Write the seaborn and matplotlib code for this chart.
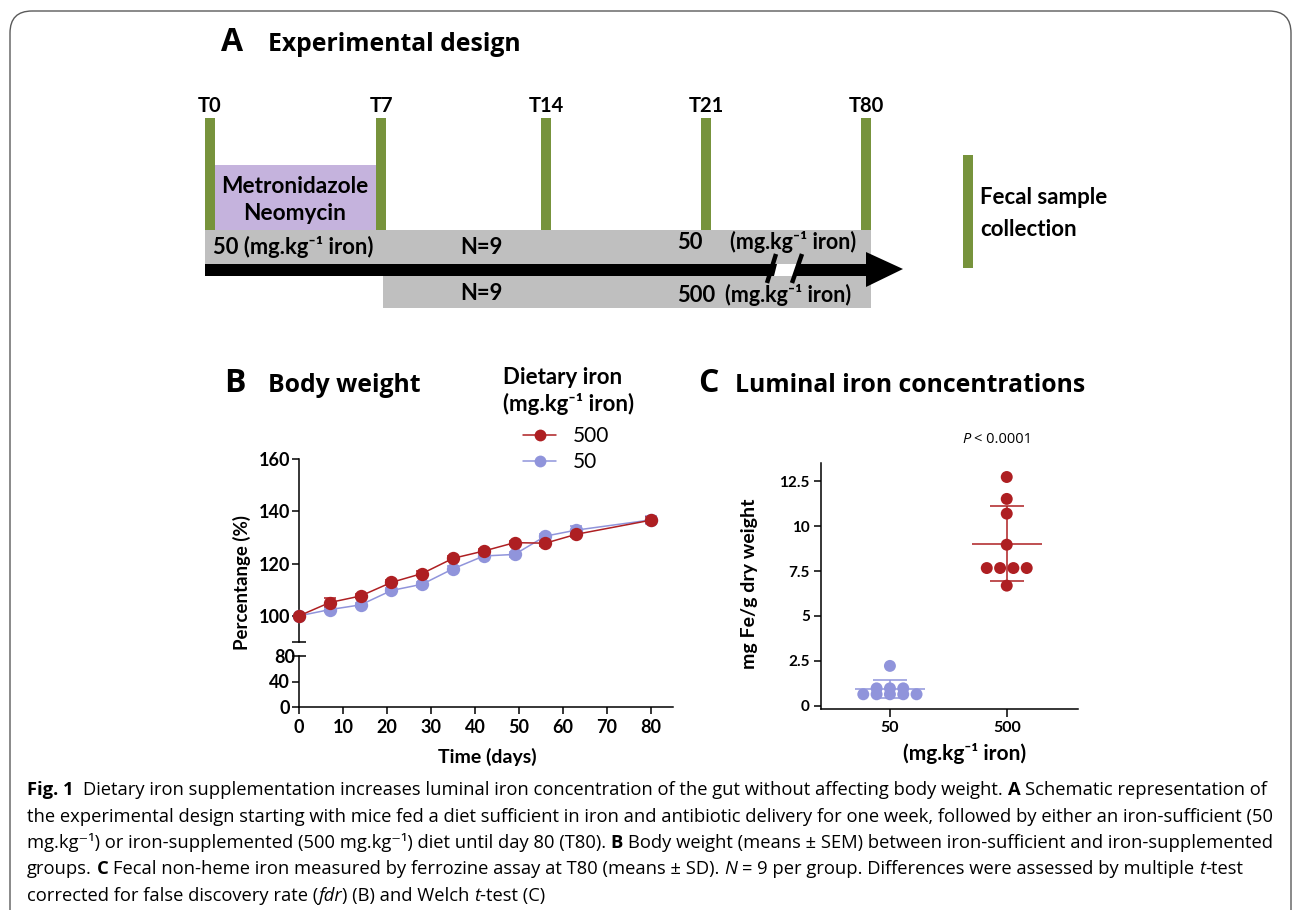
import numpy as np
import pandas as pd
import matplotlib
matplotlib.use("Agg")
import matplotlib.pyplot as plt
import seaborn as sns
from matplotlib.patches import Rectangle, Polygon, FancyBboxPatch
from matplotlib.lines import Line2D

# ---------------- data ----------------
# Panel A: schematic timeline
timepoints = ["T0", "T7", "T14", "T21", "T80"]
diet_groups = ["50", "500"]
n_per_group = 9

# Panel B: body weight (% of T0), mean +/- SEM
days = [0, 7, 14, 21, 28, 35, 42, 49, 56, 63, 80]
bw_500 = [100.0, 105.1, 107.6, 112.8, 116.2, 122.0, 124.8, 128.0, 127.8, 131.2, 136.6]
bw_50 = [100.0, 102.4, 104.2, 109.7, 112.1, 118.0, 122.9, 123.5, 130.5, 132.8, 136.7]
sem_500 = [0.0, 1.6, 0.8, 0.9, 0.8, 0.9, 0.8, 0.8, 0.9, 0.9, 1.2]
sem_50 = [0.0, 0.8, 0.7, 0.9, 0.9, 0.9, 0.9, 0.9, 1.0, 1.6, 1.4]

# Panel C: luminal iron (mg Fe / g dry weight)
fe_50 = [2.22, 0.97, 0.97, 0.97, 0.64, 0.64, 0.64, 0.64, 0.64]
fe_500 = [12.74, 11.52, 10.70, 8.97, 7.67, 7.67, 7.67, 7.67, 6.69]
c_yticks = [0, 2.5, 5, 7.5, 10, 12.5]
c_yticklabels = ["0", "2.5", "5", "7.5", "10", "12.5"]
b_xticks = [0, 10, 20, 30, 40, 50, 60, 70, 80]

# ---------------- style ----------------
RED = "#AE1F22"
BLUE = "#9094DB"
GREEN = "#77933C"
LAV = "#C5B3DD"
GRAY = "#BFBFBF"

sns.set_theme(style="ticks")
plt.rcParams["font.family"] = ["Lato", "DejaVu Sans"]
plt.rcParams["text.color"] = "black"
plt.rcParams["axes.labelcolor"] = "black"
plt.rcParams["axes.linewidth"] = 1.1
plt.rcParams["xtick.major.width"] = 1.1
plt.rcParams["ytick.major.width"] = 1.1
plt.rcParams["ytick.minor.width"] = 1.1
plt.rcParams["axes.edgecolor"] = "black"
plt.rcParams["xtick.color"] = "black"
plt.rcParams["ytick.color"] = "black"
plt.rcParams["xtick.labelcolor"] = "black"
plt.rcParams["ytick.labelcolor"] = "black"

W, H = 1293, 910
fig = plt.figure(figsize=(W / 100, H / 100), dpi=100)

LB = ["Lato", "DejaVu Sans"]
OS = ["Open Sans", "DejaVu Sans"]

# full-figure canvas axes in pixel coordinates
axA = fig.add_axes([0, 0, 1, 1])
axA.set_xlim(0, W)
axA.set_ylim(H, 0)
axA.axis("off")
axA.set_facecolor("none")

# border
axA.add_patch(FancyBboxPatch((10, 11), 1281, 960, boxstyle="round,pad=0,rounding_size=22",
                             fc="none", ec="#5a5a5a", lw=1.0, clip_on=False))

# ---- panel titles ----
def title(xl, xt, y, letter, text):
    axA.text(xl, y, letter, fontsize=23, fontweight="bold", family=OS, va="baseline", ha="left")
    axA.text(xt, y, text, fontsize=17.8, fontweight="bold", family=OS, va="baseline", ha="left")

title(221, 268, 51, "A", "Experimental design")
title(224, 268, 392, "B", "Body weight")
title(698, 735, 392, "C", "Luminal iron concentrations")

# ---- panel A schematic ----
tp_x = [210, 381, 546, 706, 866]  # layout positions of collection bars
bar_w = 10
axA.add_patch(Rectangle((tp_x[0] - 5, 230), tp_x[-1] + 5 - (tp_x[0] - 5), 34, fc=GRAY, ec="none"))
axA.add_patch(Rectangle((tp_x[1] + 2, 276), tp_x[-1] + 5 - (tp_x[1] + 2), 32, fc=GRAY, ec="none"))
axA.add_patch(Rectangle((tp_x[0] + 5, 165), tp_x[1] - 5 - (tp_x[0] + 5), 65, fc=LAV, ec="none"))
for lab, x in zip(timepoints, tp_x):
    axA.add_patch(Rectangle((x - bar_w / 2, 118), bar_w, 112, fc=GREEN, ec="none"))
    axA.text(x, 112, lab, fontsize=14.5, fontweight="bold", family=LB, ha="center", va="baseline")
axA.add_patch(Rectangle((tp_x[0] - 5, 264), 868 - (tp_x[0] - 5), 12, fc="black", ec="none"))
axA.add_patch(Polygon([(866, 252), (903, 269), (866, 287)], closed=True, fc="black", ec="none"))
axA.add_patch(Polygon([(777, 264), (797, 264), (794, 276), (774, 276)], closed=True, fc="white", ec="none"))
axA.plot([776, 767], [254, 283], color="black", lw=3.2, solid_capstyle="butt")
axA.plot([802, 792], [254, 283], color="black", lw=3.2, solid_capstyle="butt")

axA.text(295, 193, "Metronidazole", fontsize=16.3, fontweight="bold", family=LB, ha="center", va="baseline")
axA.text(295, 220, "Neomycin", fontsize=16.3, fontweight="bold", family=LB, ha="center", va="baseline")

lab_unit = "(mg.kg\u207b\u00b9 iron)"
axA.text(213, 254, f"{diet_groups[0]} {lab_unit}", fontsize=15.8, fontweight="bold", family=LB, va="baseline")
axA.text(460, 254, f"N={n_per_group}", fontsize=15.8, fontweight="bold", family=LB, va="baseline")
axA.text(460, 300, f"N={n_per_group}", fontsize=15.8, fontweight="bold", family=LB, va="baseline")
axA.text(677, 249, diet_groups[0], fontsize=15.8, fontweight="bold", family=LB, va="baseline")
axA.text(730, 249, lab_unit, fontsize=15.5, fontweight="bold", family=LB, va="baseline")
axA.text(677, 302, diet_groups[1], fontsize=15.8, fontweight="bold", family=LB, va="baseline")
axA.text(725, 302, lab_unit, fontsize=15.5, fontweight="bold", family=LB, va="baseline")

axA.add_patch(Rectangle((963, 155), 10, 113, fc=GREEN, ec="none"))
axA.text(980, 204, "Fecal sample", fontsize=16, fontweight="bold", family=LB, va="baseline")
axA.text(980, 236, "collection", fontsize=16, fontweight="bold", family=LB, va="baseline")

# ---------------- panel B ----------------
def fpos(x0, x1, ytop, ybot):
    return [x0 / W, 1 - ybot / H, (x1 - x0) / W, (ybot - ytop) / H]

axU = fig.add_axes(fpos(299, 673, 459, 642))
axL = fig.add_axes(fpos(299, 673, 656, 707))
xmax_b = 85.0

dfB = pd.DataFrame({
    "day": days * 2,
    "pct": bw_50 + bw_500,
    "diet": ["50"] * len(days) + ["500"] * len(days),
})
for d, vals, sem, col in [("50", bw_50, sem_50, BLUE), ("500", bw_500, sem_500, RED)]:
    axU.errorbar(days, vals, yerr=sem, fmt="none", ecolor=col, elinewidth=1.1,
                 capsize=4.5, capthick=1.1, zorder=2, clip_on=False)
sns.lineplot(data=dfB, x="day", y="pct", hue="diet", hue_order=["50", "500"],
             palette={"50": BLUE, "500": RED}, marker="o", markersize=9.6,
             markeredgewidth=0, linewidth=1.1, errorbar=None, legend=False, ax=axU, zorder=3)
for ln in axU.lines:
    ln.set_clip_on(False)

for ax in (axU, axL):
    ax.set_xlim(0, xmax_b)
    ax.spines["top"].set_visible(False)
    ax.spines["right"].set_visible(False)
    ax.set_xlabel("")
    ax.set_ylabel("")
    ax.set_facecolor("none")

axU.set_ylim(90, 160)
axU.spines["bottom"].set_visible(False)
axU.set_yticks([100, 120, 140, 160])
axU.set_yticks([90], minor=True)
axU.tick_params(axis="y", which="major", length=5, width=1.1, pad=1.5, labelsize=13)
axU.tick_params(axis="y", which="minor", length=10, width=1.1, direction="inout")
axU.tick_params(axis="x", bottom=False, labelbottom=False)
for t in axU.get_yticklabels():
    t.set_fontweight("bold")

axL.set_ylim(0, 80)
axL.set_yticks([0, 40])
axL.set_yticks([80], labels=["80"], minor=True)
axL.set_xticks(b_xticks)
axL.tick_params(axis="y", which="major", length=5, width=1.1, pad=1.5, labelsize=13)
axL.tick_params(axis="y", which="minor", length=10, width=1.1, direction="inout", pad=-2, labelsize=13)
axL.tick_params(axis="x", length=5, width=1.1, pad=3.5, labelsize=13)
for t in axL.get_yticklabels() + axL.get_yticklabels(minor=True) + axL.get_xticklabels():
    t.set_fontweight("bold")

axA.text(242, 582, "Percentange (%)", rotation=90, fontsize=13.4, fontweight="bold", family=LB,
         ha="center", va="center")
axA.text(487, 757, "Time (days)", fontsize=14, fontweight="bold", family=LB, ha="center", va="center")

# legend
axA.text(503, 384, "Dietary iron", fontsize=16, fontweight="bold", family=LB, va="baseline")
axA.text(503, 411, "(mg.kg\u207b\u00b9 iron)", fontsize=16, fontweight="bold", family=LB, va="baseline")
handles = [Line2D([], [], color=RED, marker="o", markersize=8.5, markeredgewidth=0, lw=1.1),
           Line2D([], [], color=BLUE, marker="o", markersize=8.5, markeredgewidth=0, lw=1.1)]
fig.legend(handles, ["500", "50"], loc="upper left", bbox_to_anchor=(523 / W, 1 - 426 / H),
           frameon=False, fontsize=15, handlelength=1.6, handletextpad=0.8,
           labelspacing=0.28, borderpad=0, borderaxespad=0)

# ---------------- panel C ----------------
axC = fig.add_axes(fpos(821, 1078, 463, 709))
step = 0.114

def row_offsets(vals, step):
    vals = np.asarray(vals)
    off = np.zeros(len(vals))
    for v in np.unique(vals):
        idx = np.where(vals == v)[0]
        off[idx] = (np.arange(len(idx)) - (len(idx) - 1) / 2) * step
    return off

xs, ys, gs = [], [], []
for i, (g, vals) in enumerate(zip(diet_groups, [fe_50, fe_500])):
    xs += list(i + row_offsets(vals, step))
    ys += list(vals)
    gs += [g] * len(vals)
dfC = pd.DataFrame({"x": xs, "fe": ys, "group": gs})

for i, (g, vals, col) in enumerate(zip(diet_groups, [fe_50, fe_500], [BLUE, RED])):
    m = np.mean(vals)
    sd = np.std(vals, ddof=1)
    axC.hlines(m, i - 0.3, i + 0.3, color=col, lw=1.1, zorder=2)
    axC.vlines(i, m - sd, m + sd, color=col, lw=1.1, zorder=2)
    axC.hlines([m - sd, m + sd], i - 0.145, i + 0.145, color=col, lw=1.1, zorder=2)

sns.scatterplot(data=dfC, x="x", y="fe", hue="group", palette={"50": BLUE, "500": RED},
                s=74, edgecolor="none", linewidth=0, legend=False, ax=axC, zorder=3)
axC.set_xlim(-0.59, 1.61)
axC.set_ylim(-0.18, 13.52)
axC.set_xticks([0, 1], labels=diet_groups)
axC.set_yticks(c_yticks, labels=c_yticklabels)
axC.spines["top"].set_visible(False)
axC.spines["right"].set_visible(False)
axC.set_xlabel("")
axC.set_ylabel("")
axC.set_facecolor("none")
axC.tick_params(axis="y", length=5, width=1.1, pad=3, labelsize=11)
axC.tick_params(axis="x", length=6, width=1.1, pad=3, labelsize=11.5)
for t in axC.get_yticklabels() + axC.get_xticklabels():
    t.set_fontweight("bold")

axA.text(750, 584, "mg Fe/g dry weight", rotation=90, fontsize=14, fontweight="bold", family=LB,
         ha="center", va="center")
axA.text(965, 753, "(mg.kg\u207b\u00b9 iron)", fontsize=15, fontweight="bold", family=LB,
         ha="center", va="center")

# ---------------- rich-text helper ----------------
renderer = fig.canvas.get_renderer()

def text_w(s, **kw):
    t = axA.text(0, 0, s, **kw)
    w = t.get_window_extent(renderer=renderer).width
    t.remove()
    return w

def rich_line(x, y, segs, size=11.5, fam=OS):
    sp = text_w("x x", fontsize=size, family=fam) - text_w("xx", fontsize=size, family=fam)
    for txt, weight, style in segs:
        lead = len(txt) - len(txt.lstrip(" "))
        trail = len(txt) - len(txt.rstrip(" "))
        x += lead * sp
        core = txt.strip(" ")
        if core:
            t = axA.text(x, y, core, fontsize=size, fontweight=weight, fontstyle=style,
                         family=fam, va="baseline", ha="left")
            x += t.get_window_extent(renderer=renderer).width
        x += trail * sp

rich_line(962, 443, [("P", "normal", "italic"), (" < 0.0001", "normal", "normal")], size=10.5)

N, B_, I_ = "normal", "bold", "italic"
cap = [
    [("Fig. 1", B_, N), ("  Dietary iron supplementation increases luminal iron concentration of the gut without affecting body weight. ", N, N),
     ("A", B_, N), (" Schematic representation of", N, N)],
    [("the experimental design starting with mice fed a diet sufficient in iron and antibiotic delivery for one week, followed by either an iron-sufficient (50", N, N)],
    [("mg.kg\u207b\u00b9) or iron-supplemented (500 mg.kg\u207b\u00b9) diet until day 80 (T80). ", N, N), ("B", B_, N),
     (" Body weight (means \u00b1 SEM) between iron-sufficient and iron-supplemented", N, N)],
    [("groups. ", N, N), ("C", B_, N), (" Fecal non-heme iron measured by ferrozine assay at T80 (means \u00b1 SD). ", N, N),
     ("N", N, I_), (" = 9 per group. Differences were assessed by multiple ", N, N), ("t", N, I_), ("-test", N, N)],
    [("corrected for false discovery rate (", N, N), ("fdr", N, I_), (") (B) and Welch ", N, N), ("t", N, I_), ("-test (C)", N, N)],
]
for k, segs in enumerate(cap):
    rich_line(27, 795 + 26.5 * k, segs, size=13.2)

fig.savefig("out.png", dpi=100)
